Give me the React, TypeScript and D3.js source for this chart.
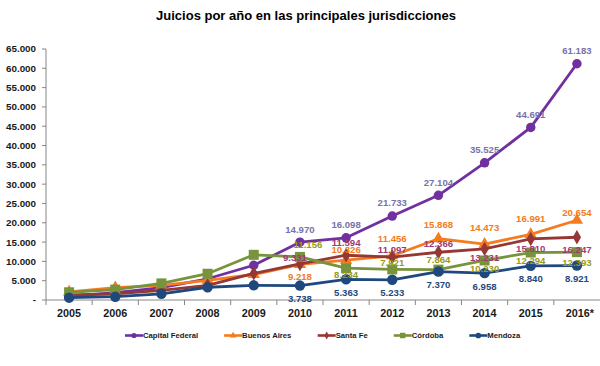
import React from "react";
import * as d3 from "d3";

const years = ["2005", "2006", "2007", "2008", "2009", "2010", "2011", "2012", "2013", "2014", "2015", "2016*"];
const yTicks = [0, 5000, 10000, 15000, 20000, 25000, 30000, 35000, 40000, 45000, 50000, 55000, 60000, 65000];

const capitalFederal = [1000, 1900, 3200, 5500, 9000, 14970, 16098, 21733, 27104, 35525, 44691, 61183];
const buenosAires = [2100, 3200, 3800, 5100, 6600, 9218, 10326, 11456, 15868, 14473, 16991, 20654];
const santaFe = [1300, 1600, 2500, 3800, 6900, 9331, 11594, 11097, 12366, 13231, 15810, 16247];
const cordoba = [2000, 2700, 4300, 6800, 11700, 11156, 8234, 7921, 7864, 10230, 12294, 12393];
const mendoza = [600, 850, 1600, 3300, 3800, 3738, 5363, 5233, 7370, 6958, 8840, 8921];

// index of first labelled year
const labelFrom = 5;

type Series = {
  name: string;
  values: number[];
  color: string;
  labelColor: string;
  symbol: d3.SymbolType;
  size: number;
  labelDy: number[];
  labelDx: number[];
};

const series: Series[] = [
  { name: "Capital Federal", values: capitalFederal, color: "#7030A0", labelColor: "#7673AA", symbol: d3.symbolCircle, size: 70, labelDy: [-13, -13, -13, -13, -13, -13, -13], labelDx: [0, 0, 0, 0, 0, 0, 0] },
  { name: "Buenos Aires", values: buenosAires, color: "#F47B20", labelColor: "#F47B20", symbol: d3.symbolTriangle, size: 65, labelDy: [12, -10, -17, -14, -16, -16, -8], labelDx: [0, 0, 0, 0, 0, 0, 0] },
  { name: "Santa Fe", values: santaFe, color: "#953735", labelColor: "#9E3A72", symbol: d3.symbolDiamond, size: 60, labelDy: [-6, -13, -8, -9, 9, 10, 12], labelDx: [-5, 0, 0, 0, 0, 0, 0] },
  { name: "Córdoba", values: cordoba, color: "#77933C", labelColor: "#9A9A14", symbol: d3.symbolSquare, size: 100, labelDy: [-12, 6, -7, -10, 8, 8, 10], labelDx: [8, 0, 0, 0, 0, 0, 0] },
  { name: "Mendoza", values: mendoza, color: "#1F497D", labelColor: "#1F497D", symbol: d3.symbolCircle, size: 85, labelDy: [13, 13, 13, 13, 14, 13, 13], labelDx: [0, 0, 0, 0, 0, 0, 0] },
];

const W = 600, H = 366;
const M = { left: 46, right: 600, top: 49, bottom: 300 };

const fmt = (v: number) => (v === 0 ? "-" : d3.format(",")(v).replace(/,/g, "."));

function measure(text: string, font: string) {
  const c = document.createElement("canvas").getContext("2d");
  if (!c) return text.length * 4;
  c.font = font;
  return c.measureText(text).width;
}

export default function App() {
  const x = d3.scaleBand<string>().domain(years).range([M.left, M.right]);
  const cx = (i: number) => (x(years[i]) as number) + x.bandwidth() / 2;
  const y = d3.scaleLinear().domain([0, 65000]).range([M.bottom, M.top]);
  const line = d3.line<number>().x((_, i) => cx(i)).y((v) => y(v));
  const font = "Liberation Sans, Arial, sans-serif";

  const legendFont = `bold 7.7px ${font}`;
  let lx = 125;
  const legendItems = series.map((s) => {
    const w = measure(s.name, "bold 7.7px 'Liberation Sans'");
    const item = { s, x: lx };
    lx += 18 + w + 26;
    return item;
  });

  return (
    <svg width={W} height={H} style={{ position: "absolute", left: 0, top: 0, background: "#fff" }} fontFamily={font}>
      <text x={306} y={20} textAnchor="middle" fontSize={13} fontWeight="bold" fill="#000">
        Juicios por año en las principales jurisdicciones
      </text>
      {/* y axis */}
      <line x1={M.left} x2={M.left} y1={M.top} y2={M.bottom} stroke="#868686" />
      {yTicks.map((t) => (
        <g key={t}>
          <line x1={M.left - 4} x2={M.left} y1={y(t)} y2={y(t)} stroke="#868686" />
          <text x={36} y={y(t)} dy="0.35em" textAnchor="end" fontSize={9.8} fontWeight="bold" fill="#1a1a1a">
            {fmt(t)}
          </text>
        </g>
      ))}
      {/* x axis */}
      <line x1={M.left} x2={M.right} y1={M.bottom} y2={M.bottom} stroke="#868686" />
      {years.map((yr, i) => (
        <g key={yr}>
          <line x1={x(yr) as number} x2={x(yr) as number} y1={M.bottom} y2={M.bottom + 5} stroke="#868686" />
          <text x={cx(i) + (yr.endsWith("*") ? 3 : 0)} y={317} textAnchor="middle" fontSize={10.8} fontWeight="bold" fill="#1a1a1a">
            {yr}
          </text>
        </g>
      ))}
      {/* series */}
      {series.map((s) => (
        <g key={s.name}>
          <path d={line(s.values) || ""} fill="none" stroke={s.color} strokeWidth={2.8} strokeLinejoin="round" />
          {s.values.map((v, i) => (
            <path key={i} d={d3.symbol().type(s.symbol).size(s.size)() || ""} transform={`translate(${cx(i)},${y(v)})`} fill={s.color} />
          ))}
        </g>
      ))}
      {/* data labels */}
      {series.map((s) =>
        s.values.map((v, i) =>
          i >= labelFrom ? (
            <text key={s.name + i} x={cx(i) + s.labelDx[i - labelFrom]} y={y(v) + s.labelDy[i - labelFrom]} dy="0.35em" textAnchor="middle" fontSize={9.6} fontWeight="bold" fill={s.labelColor}>
              {fmt(v)}
            </text>
          ) : null
        )
      )}
      {/* legend */}
      {legendItems.map(({ s, x: lx0 }) => (
        <g key={s.name}>
          <line x1={lx0} x2={lx0 + 18} y1={335.5} y2={335.5} stroke={s.color} strokeWidth={2.6} />
          <path d={d3.symbol().type(s.symbol).size(s.size * 0.3)() || ""} transform={`translate(${lx0 + 9},335.5)`} fill={s.color} />
          <text x={lx0 + 18} y={335.5} dy="0.35em" style={{ font: legendFont }} fill="#1a1a1a">
            {s.name}
          </text>
        </g>
      ))}
    </svg>
  );
}
